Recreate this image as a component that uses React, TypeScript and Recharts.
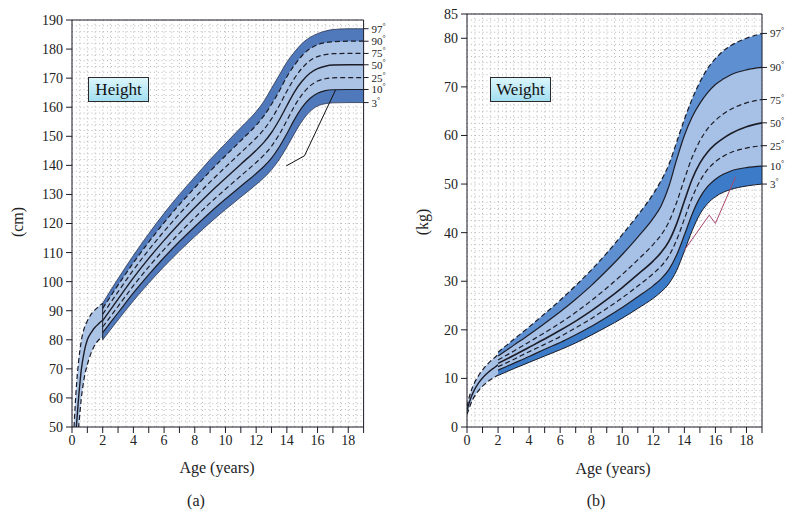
import React from 'react';
import { ComposedChart, Area, Line, XAxis, YAxis, CartesianGrid, ReferenceLine } from 'recharts';

const FONT = '"Liberation Serif", "DejaVu Serif", serif';

// ---------- shared ----------
const pctLabels = ['97', '90', '75', '50', '25', '10', '3'];
const xTicks = [0, 1, 2, 3, 4, 5, 6, 7, 8, 9, 10, 11, 12, 13, 14, 15, 16, 17, 18, 19];
const mainAge = [2, 3, 4, 5, 6, 7, 8, 9, 10, 11, 12, 12.5, 13, 13.5, 14, 14.5, 15, 15.5, 16, 16.5, 17, 18, 19];

// ---------- height (cm) ----------
const hTicks = [50, 60, 70, 80, 90, 100, 110, 120, 130, 140, 150, 160, 170, 180, 190];
const hEarlyAge = [0.13, 0.28, 0.43, 0.6, 0.8, 1.0, 1.25, 1.5, 1.75, 2.0];
const hEarly97 = [50, 63.5, 72.5, 79.5, 84, 86.5, 88.8, 90.3, 91.5, 92.6];
const hEarly50 = [42, 50, 60, 69.5, 76, 80, 82.5, 84.3, 85.6, 86.7];
const hEarly3 = [36, 44, 50, 59.5, 67, 71.5, 75.5, 78.3, 80, 81];

const h97 = [92.6, 101, 109, 116.5, 123.5, 130, 136, 142, 147.5, 153, 158.5, 162, 166.5, 171, 175.5, 179, 182, 184, 185.3, 186.2, 186.7, 187, 187];
const h90 = [90.8, 98.8, 106.5, 113.6, 120.3, 126.5, 132.3, 138, 143.3, 148.5, 153.8, 157, 161, 165.5, 170.5, 174.5, 177.8, 180.1, 181.5, 182.2, 182.5, 182.7, 182.7];
const h75 = [88.8, 96.5, 104, 110.9, 117.3, 123.3, 128.9, 134.3, 139.4, 144.4, 149.4, 152.3, 156, 160.5, 165.5, 170, 173.5, 176, 177.4, 178.1, 178.4, 178.5, 178.5];
const h50 = [86.6, 94, 101.3, 108, 114.2, 120, 125.5, 130.7, 135.6, 140.4, 145.2, 147.9, 151.3, 155.6, 160.5, 165.3, 169, 171.7, 173.3, 174.1, 174.5, 174.6, 174.6];
const h25 = [84.4, 91.5, 98.6, 105.1, 111.1, 116.7, 122, 127.1, 131.8, 136.4, 141, 143.5, 146.6, 150.6, 155.4, 160.4, 164.4, 167.3, 169, 169.8, 170.1, 170.2, 170.2];
const h10 = [82.5, 89.3, 96.1, 102.4, 108.3, 113.8, 118.9, 123.8, 128.4, 132.8, 137.2, 139.6, 142.5, 146.3, 150.9, 155.8, 160, 163, 164.8, 165.7, 166, 166.1, 166.1];
const h3 = [80, 86.8, 93.4, 99.5, 105.2, 110.5, 115.5, 120.3, 124.8, 129.1, 133.4, 135.7, 138.5, 142, 146.3, 151, 155.3, 158.5, 160.4, 161.2, 161.5, 161.6, 161.6];

const hPatAge = [13.96, 15.15, 17.17];
const hPat = [139.8, 143.3, 165.9];

// ---------- weight (kg) ----------
const wTicks = [0, 10, 20, 30, 40, 50, 60, 70, 80, 85];
const wEarlyAge = [0, 0.1, 0.25, 0.5, 0.75, 1, 1.25, 1.5, 1.75, 2];
const wEarly97 = [4.2, 5.6, 7.3, 9.2, 10.6, 11.7, 12.7, 13.5, 14.2, 14.9];
const wEarly50 = [3.4, 4.5, 6.0, 7.8, 9.1, 10.1, 10.9, 11.6, 12.2, 12.8];
const wEarly3 = [2.6, 3.5, 4.8, 6.4, 7.5, 8.4, 9.1, 9.7, 10.2, 10.7];

const w97 = [15.4, 18, 20.6, 23.3, 26.1, 29.1, 32.3, 35.8, 39.6, 43.6, 48, 50.7, 54, 58.6, 63.3, 67.5, 71, 73.8, 75.8, 77.4, 78.5, 80, 81];
const w90 = [14.6, 16.8, 19, 21.3, 23.7, 26.3, 29.1, 32.2, 35.5, 39.1, 43, 45.5, 49.5, 55, 60, 63.8, 66.6, 68.8, 70.5, 71.6, 72.5, 73.5, 74];
const w75 = [13.8, 15.6, 17.5, 19.4, 21.4, 23.6, 26, 28.6, 31.4, 34.4, 37.6, 39.5, 42.2, 46.2, 51, 55.5, 58.9, 61.4, 63.1, 64.4, 65.4, 66.7, 67.4];
const w50 = [13.1, 14.7, 16.4, 18.1, 19.9, 21.8, 23.9, 26.2, 28.7, 31.4, 34.2, 35.9, 38.2, 41.8, 46.5, 51, 54.3, 56.6, 58.2, 59.4, 60.4, 61.8, 62.6];
const w25 = [12.4, 13.9, 15.5, 17, 18.6, 20.4, 22.3, 24.4, 26.6, 29, 31.6, 33.1, 35.2, 38.5, 42.8, 47.2, 50.6, 53, 54.6, 55.7, 56.5, 57.4, 57.9];
const w10 = [11.7, 13.1, 14.5, 16, 17.4, 19, 20.7, 22.6, 24.6, 26.8, 29.1, 30.5, 32.4, 35.4, 39.5, 43.8, 47.2, 49.5, 51, 52, 52.7, 53.4, 53.7];
const w3 = [10.6, 12, 13.3, 14.6, 15.9, 17.3, 18.9, 20.6, 22.4, 24.4, 26.5, 27.8, 29.5, 32.2, 36.2, 40.4, 43.8, 46, 47.4, 48.3, 48.9, 49.6, 50];

const wPatAge = [14.0, 15.6, 16.0, 17.3];
const wPat = [36.4, 43.6, 41.9, 51.5];

// ---------- build rows ----------
function rows(ages: number[], cols: Record<string, number[]>) {
  return ages.map((a, i) => {
    const r: any = { age: a };
    Object.keys(cols).forEach((k) => { r[k] = cols[k][i]; });
    return r;
  });
}
const hEarly = rows(hEarlyAge, { p97: hEarly97, p50: hEarly50, p3: hEarly3 });
const hMain = rows(mainAge, { p97: h97, p90: h90, p75: h75, p50: h50, p25: h25, p10: h10, p3: h3 });
const hPatient = rows(hPatAge, { v: hPat });
const wEarly = rows(wEarlyAge, { p97: wEarly97, p50: wEarly50, p3: wEarly3 });
const wMain = rows(mainAge, { p97: w97, p90: w90, p75: w75, p50: w50, p25: w25, p10: w10, p3: w3 });
const wPatient = rows(wPatAge, { v: wPat });

const last = (a: number[]) => a[a.length - 1];
const hFinals = [h97, h90, h75, h50, h25, h10, h3].map(last);
const wFinals = [w97, w90, w75, w50, w25, w10, w3].map(last);

// dotted background grid
const vGen = (n: number) => ({ offset }: any) =>
  Array.from({ length: n + 1 }, (_, i) => offset.left + (offset.width * i) / n);
const hGen = (n: number) => ({ offset }: any) =>
  Array.from({ length: n + 1 }, (_, i) => offset.top + (offset.height * i) / n);

const INK = '#1c1c28';
const tickStyle = { fill: '#222', fontSize: 14, fontFamily: FONT };

const makePctTick = (finals: number[]) => (props: any) => {
  const { x, y, payload } = props;
  const i = finals.indexOf(payload.value);
  return (
    <text x={x} y={y} dy={4} textAnchor="start" fontSize={11} fontFamily={FONT} fill="#222">
      {pctLabels[i]}
      <tspan fontSize={8} dy={-4}>°</tspan>
    </text>
  );
};

const xFmt = (v: number) => (v % 2 === 0 && v < 19 ? String(v) : '');

function Box({ left, top, text }: { left: number; top: number; text: string }) {
  return (
    <div
      style={{
        position: 'absolute', left, top, width: 61, height: 25, boxSizing: 'border-box',
        border: '1px solid #2a2a2a', background: 'linear-gradient(180deg, #dcf6fc 0%, #a2def0 100%)',
        fontFamily: FONT, fontSize: 17, color: '#111', textAlign: 'center', lineHeight: '23px',
      }}
    >
      {text}
    </div>
  );
}

function Txt({ left, top, text, size = 16, rotate = false }: any) {
  return (
    <div
      style={{
        position: 'absolute', left, top, fontFamily: FONT, fontSize: size, color: '#222',
        whiteSpace: 'nowrap', transform: `translate(-50%, -50%)${rotate ? ' rotate(-90deg)' : ''}`,
      }}
    >
      {text}
    </div>
  );
}

const GRID = { stroke: '#8c8c8c', strokeWidth: 0.7, strokeDasharray: '0.9 3' };

function HeightChart() {
  const dashed = '5 3';
  return (
    <ComposedChart width={400} height={518} margin={{ top: 20, right: 6, bottom: 51, left: 10 }}>
      <CartesianGrid {...GRID}
        verticalCoordinatesGenerator={vGen(38)} horizontalCoordinatesGenerator={hGen(70)} />
      <XAxis type="number" dataKey="age" domain={[0, 19]} ticks={xTicks} interval={0} allowDataOverflow
        tickFormatter={xFmt} tick={tickStyle} tickSize={6} tickMargin={2} height={40}
        axisLine={{ stroke: INK }} tickLine={{ stroke: INK }} />
      <YAxis yAxisId="l" type="number" domain={[50, 190]} ticks={hTicks} interval={0} allowDataOverflow
        tick={tickStyle} tickSize={6} tickMargin={3} width={62}
        axisLine={{ stroke: INK }} tickLine={{ stroke: INK }} />
      <YAxis yAxisId="p" orientation="right" type="number" domain={[50, 190]} ticks={hFinals} interval={0}
        allowDataOverflow tick={makePctTick(hFinals)} tickSize={5} tickMargin={3} width={30.4}
        axisLine={{ stroke: INK }} tickLine={{ stroke: INK }} />
      <ReferenceLine yAxisId="l" y={190} stroke={INK} />

      <Area yAxisId="l" data={hEarly} type="monotone" dataKey={(d: any) => [d.p3, d.p97]}
        fill="#abc4e6" fillOpacity={1} stroke="none" isAnimationActive={false} />
      <Line yAxisId="l" data={hEarly} type="monotone" dataKey="p97" stroke={INK} strokeWidth={1.2}
        strokeDasharray={dashed} dot={false} activeDot={false} isAnimationActive={false} />
      <Line yAxisId="l" data={hEarly} type="monotone" dataKey="p50" stroke={INK} strokeWidth={1.4}
        dot={false} activeDot={false} isAnimationActive={false} />
      <Line yAxisId="l" data={hEarly} type="monotone" dataKey="p3" stroke={INK} strokeWidth={1.2}
        strokeDasharray={dashed} dot={false} activeDot={false} isAnimationActive={false} />

      <Area yAxisId="l" data={hMain} type="monotone" dataKey={(d: any) => [d.p3, d.p97]}
        fill="#5079bb" fillOpacity={1} stroke="none" isAnimationActive={false} />
      <Area yAxisId="l" data={hMain} type="monotone" dataKey={(d: any) => [d.p10, d.p90]}
        fill="#abc4e6" fillOpacity={1} stroke="none" isAnimationActive={false} />
      <ReferenceLine yAxisId="l" stroke={INK} strokeWidth={1}
        segment={[{ x: mainAge[0], y: h3[0] }, { x: mainAge[0], y: h97[0] }]} />
      <Line yAxisId="l" data={hMain} type="monotone" dataKey="p97" stroke="#2b3550" strokeWidth={0.8}
        dot={false} activeDot={false} isAnimationActive={false} />
      <Line yAxisId="l" data={hMain} type="monotone" dataKey="p90" stroke={INK} strokeWidth={1.2}
        strokeDasharray={dashed} dot={false} activeDot={false} isAnimationActive={false} />
      <Line yAxisId="l" data={hMain} type="monotone" dataKey="p75" stroke={INK} strokeWidth={1.2}
        strokeDasharray={dashed} dot={false} activeDot={false} isAnimationActive={false} />
      <Line yAxisId="l" data={hMain} type="monotone" dataKey="p50" stroke={INK} strokeWidth={1.4}
        dot={false} activeDot={false} isAnimationActive={false} />
      <Line yAxisId="l" data={hMain} type="monotone" dataKey="p25" stroke={INK} strokeWidth={1.2}
        strokeDasharray={dashed} dot={false} activeDot={false} isAnimationActive={false} />
      <Line yAxisId="l" data={hMain} type="monotone" dataKey="p10" stroke={INK} strokeWidth={1.2}
        dot={false} activeDot={false} isAnimationActive={false} />
      <Line yAxisId="l" data={hMain} type="monotone" dataKey="p3" stroke="#2b3550" strokeWidth={0.8}
        dot={false} activeDot={false} isAnimationActive={false} />

      <Line yAxisId="l" data={hPatient} type="linear" dataKey="v" stroke="#111" strokeWidth={1}
        dot={false} activeDot={false} isAnimationActive={false} />
    </ComposedChart>
  );
}

function WeightChart() {
  const dashed = '5 3';
  return (
    <ComposedChart width={397} height={518} margin={{ top: 14, right: 2, bottom: 51, left: 8 }}>
      <CartesianGrid {...GRID}
        verticalCoordinatesGenerator={vGen(38)} horizontalCoordinatesGenerator={hGen(68)} />
      <XAxis type="number" dataKey="age" domain={[0, 19]} ticks={xTicks} interval={0} allowDataOverflow
        tickFormatter={xFmt} tick={tickStyle} tickSize={6} tickMargin={2} height={40}
        axisLine={{ stroke: INK }} tickLine={{ stroke: INK }} />
      <YAxis yAxisId="l" type="number" domain={[0, 85]} ticks={wTicks} interval={0} allowDataOverflow
        tick={tickStyle} tickSize={6} tickMargin={3} width={62}
        axisLine={{ stroke: INK }} tickLine={{ stroke: INK }} />
      <YAxis yAxisId="p" orientation="right" type="number" domain={[0, 85]} ticks={wFinals} interval={0}
        allowDataOverflow tick={makePctTick(wFinals)} tickSize={5} tickMargin={3} width={30}
        axisLine={{ stroke: INK }} tickLine={{ stroke: INK }} />
      <ReferenceLine yAxisId="l" y={85} stroke={INK} />

      <Area yAxisId="l" data={wEarly} type="monotone" dataKey={(d: any) => [d.p3, d.p97]}
        fill="#a6c1e5" fillOpacity={1} stroke="none" isAnimationActive={false} />
      <Line yAxisId="l" data={wEarly} type="monotone" dataKey="p97" stroke={INK} strokeWidth={1.2}
        strokeDasharray={dashed} dot={false} activeDot={false} isAnimationActive={false} />
      <Line yAxisId="l" data={wEarly} type="monotone" dataKey="p50" stroke={INK} strokeWidth={1.4}
        dot={false} activeDot={false} isAnimationActive={false} />
      <Line yAxisId="l" data={wEarly} type="monotone" dataKey="p3" stroke={INK} strokeWidth={1.2}
        strokeDasharray={dashed} dot={false} activeDot={false} isAnimationActive={false} />

      <Area yAxisId="l" data={wMain} type="monotone" dataKey={(d: any) => [d.p90, d.p97]}
        fill="#5d8fd1" fillOpacity={1} stroke="none" isAnimationActive={false} />
      <Area yAxisId="l" data={wMain} type="monotone" dataKey={(d: any) => [d.p3, d.p10]}
        fill="#3b7bc7" fillOpacity={1} stroke="none" isAnimationActive={false} />
      <Area yAxisId="l" data={wMain} type="monotone" dataKey={(d: any) => [d.p10, d.p90]}
        fill="#a6c1e5" fillOpacity={1} stroke="none" isAnimationActive={false} />
      <Line yAxisId="l" data={wMain} type="monotone" dataKey="p97" stroke={INK} strokeWidth={1.2}
        strokeDasharray={dashed} dot={false} activeDot={false} isAnimationActive={false} />
      <Line yAxisId="l" data={wMain} type="monotone" dataKey="p90" stroke={INK} strokeWidth={1.2}
        dot={false} activeDot={false} isAnimationActive={false} />
      <Line yAxisId="l" data={wMain} type="monotone" dataKey="p75" stroke={INK} strokeWidth={1.2}
        strokeDasharray={dashed} dot={false} activeDot={false} isAnimationActive={false} />
      <Line yAxisId="l" data={wMain} type="monotone" dataKey="p50" stroke={INK} strokeWidth={1.6}
        dot={false} activeDot={false} isAnimationActive={false} />
      <Line yAxisId="l" data={wMain} type="monotone" dataKey="p25" stroke={INK} strokeWidth={1.2}
        strokeDasharray={dashed} dot={false} activeDot={false} isAnimationActive={false} />
      <Line yAxisId="l" data={wMain} type="monotone" dataKey="p10" stroke={INK} strokeWidth={1.2}
        dot={false} activeDot={false} isAnimationActive={false} />
      <Line yAxisId="l" data={wMain} type="monotone" dataKey="p3" stroke={INK} strokeWidth={1}
        dot={false} activeDot={false} isAnimationActive={false} />

      <Line yAxisId="l" data={wPatient} type="linear" dataKey="v" stroke="#a8476d" strokeWidth={1}
        dot={false} activeDot={false} isAnimationActive={false} />
    </ComposedChart>
  );
}

export default function App() {
  return (
    <div style={{ position: 'absolute', left: 0, top: 0, width: 794, height: 518, background: '#fff', overflow: 'hidden' }}>
      <div style={{ position: 'absolute', left: 0, top: 0 }}>
        <HeightChart />
      </div>
      <div style={{ position: 'absolute', left: 397, top: 0 }}>
        <WeightChart />
      </div>
      <Box left={88} top={77} text="Height" />
      <Box left={490} top={77} text="Weight" />
      <Txt left={18} top={222} text="(cm)" rotate />
      <Txt left={423} top={222} text="(kg)" rotate />
      <Txt left={217} top={468} text="Age (years)" />
      <Txt left={613} top={469} text="Age (years)" />
      <Txt left={196} top={501} text="(a)" />
      <Txt left={596} top={501} text="(b)" />
    </div>
  );
}
